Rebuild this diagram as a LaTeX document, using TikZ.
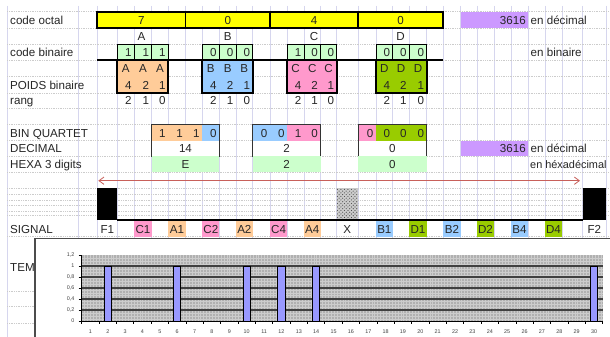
\documentclass[tikz,border=0pt]{standalone}
\usepackage{fontspec}
\setmainfont{Liberation Sans}
\usetikzlibrary{arrows.meta,patterns}

\definecolor{octyellow}{HTML}{FFFF00}
\definecolor{decpurple}{HTML}{CC99FF}
\definecolor{binmint}{HTML}{CCFFCC}
\definecolor{grpA}{HTML}{FFCC99}
\definecolor{grpB}{HTML}{99CCFF}
\definecolor{grpC}{HTML}{FF99CC}
\definecolor{grpD}{HTML}{99CC00}
\definecolor{sheetgrid}{HTML}{D6D6EE}
\definecolor{barblue}{HTML}{9999FF}
\definecolor{spanred}{HTML}{C8605A}

\tikzset{
  txt/.style={inner sep=0pt, font=\fontsize{9.9}{11}\selectfont, text=black!85},
  lbl/.style={txt, anchor=base west},
  mid/.style={txt, anchor=base},
  num/.style={txt, anchor=base east},
  small/.style={inner sep=0pt, font=\fontsize{4.6}{5}\selectfont, text=black!75},
  colline/.style={sheetgrid, line width=0.5pt},
  rowline/.style={gray!40, line width=0.5pt, densely dotted},
  heavybox/.style={draw=black, line width=1.5pt},
  cellbox/.style={draw=black, line width=0.8pt},
  groupbox/.style={draw=black!80, line width=0.8pt},
  barb/.tip={Straight Barb[length=1.5mm, width=2.2mm]}
}

\begin{document}
\begin{tikzpicture}[x=0.3mm, y=-0.3mm]
\useasboundingbox (0,0) rectangle (610,337);
\fill[white] (0,0) rectangle (610,337);

% sheet grid
\foreach \gx in {7,78,97.3,117.3,134.3,151.7,168.3,185.5,202.3,219.3,236,252.7,270,287.3,304,320.5,336.7,358,376,392.7,409.3,426.7,443.3,460.5,477,494,511,528,545,562,582.7,606}
  \draw[colline] (\gx,6) -- (\gx,337);
\foreach \gy in {11.7,28.3,44.3,60,76.5,93,108.5,124.7,140.7,156.3,172,188.3,194,200,205.5,211,215.5,236.7,291.7,306.7,323}
  \draw[rowline] (7,\gy) -- (610,\gy);

% code octal and group letters
\foreach \xa/\xb/\dg/\gn [count=\i] in {97.3/185.5/7/A, 185.5/270/0/B, 270/358/4/C, 358/443.3/0/D}{
  \filldraw[fill=octyellow, heavybox] (\xa,11.7) rectangle (\xb,28.3);
  \node[mid] (oct\i) at ({(\xa+\xb)/2},24.8) {\dg};
  \node[mid] (grp\gn) at ({(\xa+\xb)/2},40.8) {\gn};
}
\fill[decpurple] (460.5,11.7) rectangle (528,28.3);

% code binaire
\foreach \xa/\xb/\dg [count=\i] in {117.3/134.3/1, 134.3/151.7/1, 151.7/168.3/1,
    202.3/219.3/0, 219.3/236/0, 236/252.7/0,
    287.3/304/1, 304/320.5/0, 320.5/336.7/0,
    376/392.7/0, 392.7/409.3/0, 409.3/426.7/0}{
  \filldraw[fill=binmint, cellbox] (\xa,44.3) rectangle (\xb,60);
  \node[num] (bit\i) at (\xb-2.5,56.5) {\dg};
}
\draw[line width=1.5pt] (97.3,60) -- (443.3,60);

% poids binaire and rang
\foreach \xa/\xb/\cl in {117.3/168.3/grpA, 202.3/252.7/grpB, 287.3/336.7/grpC, 376/426.7/grpD}
  \filldraw[fill=\cl, heavybox] (\xa,60) rectangle (\xb,93);
\foreach \xa/\xb/\gn/\wt/\rk [count=\i] in {117.3/134.3/A/4/2, 134.3/151.7/A/2/1, 151.7/168.3/A/1/0,
    202.3/219.3/B/4/2, 219.3/236/B/2/1, 236/252.7/B/1/0,
    287.3/304/C/4/2, 304/320.5/C/2/1, 320.5/336.7/C/1/0,
    376/392.7/D/4/2, 392.7/409.3/D/2/1, 409.3/426.7/D/1/0}{
  \node[mid] (wl\i) at ({(\xa+\xb)/2},73) {\gn};
  \node[num] (wv\i) at (\xb-2.5,89.5) {\wt};
  \node[num] (rk\i) at (\xb-2.5,105) {\rk};
}

% quartets, decimal and hexa
\foreach \xa/\xb/\cl/\dg [count=\i] in {151.7/168.3/grpA/1, 168.3/185.5/grpA/1, 185.5/202.3/grpA/1, 202.3/219.3/grpB/0,
    252.7/270/grpB/0, 270/287.3/grpB/0, 287.3/304/grpC/1, 304/320.5/grpC/0,
    358/376/grpC/0, 376/392.7/grpD/0, 392.7/409.3/grpD/0, 409.3/426.7/grpD/0}{
  \fill[\cl] (\xa,124.7) rectangle (\xb,140.7);
  \node[num] (nib\i) at (\xb-2.5,137.2) {\dg};
}
\foreach \xa/\xb/\dv/\hx [count=\i] in {151.7/219.3/14/E, 252.7/320.5/2/2, 358/426.7/0/0}{
  \fill[white] (\xa,140.7) rectangle (\xb,156.3);
  \draw[groupbox] (\xa,124.7) rectangle (\xb,156.3);
  \fill[binmint] (\xa,156.3) rectangle (\xb,172);
  \node[mid] (dec\i) at ({(\xa+\xb)/2},152.8) {\dv};
  \node[mid] (hex\i) at ({(\xa+\xb)/2},168.5) {\hx};
}
\fill[decpurple] (460.5,140.7) rectangle (528,156.3);

% Below nodes are the labels.
  \node[lbl] (lOct) at (10,24.8) {code octal};
  \node[lbl] (lBin) at (10,56.5) {code binaire};
  \node[lbl] (lPoids) at (10,89.5) {POIDS binaire};
  \node[lbl] (lRang) at (10,105) {rang};
  \node[lbl] (lQuart) at (10,137.2) {BIN QUARTET};
  \node[lbl] (lDec) at (10,152.8) {DECIMAL};
  \node[lbl] (lHexa) at (10,168.5) {HEXA 3 digits};
  \node[lbl] (lSignal) at (10,233.2) {SIGNAL};
  \node[lbl] (lTem) at (10,271.5) {TEM};
  \node[num] (octSum) at (526,24.8) {3616};
  \node[lbl] (octUnit) at (530.5,24.8) {en décimal};
  \node[lbl] (binUnit) at (530.5,56.5) {en binaire};
  \node[num] (decSum) at (526,152.8) {3616};
  \node[lbl] (decUnit) at (530.5,152.8) {en décimal};
  \node[lbl, font=\fontsize{9.3}{11}\selectfont] (hexUnit) at (530,168.5) {en héxadécimal};

% span arrow over the frame
\coordinate (spanL) at (98.3,180.7);
\coordinate (spanR) at (580,180.7);
\draw[spanred, line width=0.7pt, barb-barb] (spanL) -- (spanR);

% signal frame
\fill[black] (97.3,188.3) rectangle (117.3,220);
\fill[black] (582.7,188.3) rectangle (606,220);
\fill[gray!40] (336.7,188.3) rectangle (358,220);
\fill[pattern=crosshatch dots, pattern color=gray!60!black] (336.7,188.3) rectangle (358,220);
\draw[line width=1.5pt] (117.3,220) -- (582.7,220);
\foreach \xa/\xb/\cl in {134.3/151.7/grpC, 168.3/185.5/grpA, 202.3/219.3/grpC, 236/252.7/grpA,
    270/287.3/grpC, 304/320.5/grpA, 376/392.7/grpB, 409.3/426.7/grpD,
    443.3/460.5/grpB, 477/494/grpD, 511/528/grpB, 545/562/grpD}
  \fill[\cl] (\xa,221) rectangle (\xb,236.7);
\foreach \xa/\xb/\sig in {97.3/117.3/F1, 134.3/151.7/C1, 168.3/185.5/A1, 202.3/219.3/C2, 236/252.7/A2,
    270/287.3/C4, 304/320.5/A4, 336.7/358/X, 376/392.7/B1, 409.3/426.7/D1,
    443.3/460.5/B2, 477/494/D2, 511/528/B4, 545/562/D4, 582.7/606/F2}
  \node[mid] (sig\sig) at ({(\xa+\xb)/2},233.2) {\sig};

% chart
\filldraw[fill=white, draw=black!70, line width=1pt] (35,238.3) rectangle (620,345);
\fill[gray!62] (81.7,255) rectangle (602.7,321);
\foreach \mx in {84.6,87.5,...,601} \draw[gray!40, line width=0.25pt] (\mx,255) -- (\mx,321);
\foreach \my in {257.9,260.8,...,320} \draw[gray!40, line width=0.25pt] (81.7,\my) -- (602.7,\my);
\foreach \my in {266,277,288,299,310} \draw[black!75, line width=1.3pt] (81.7,\my) -- (602.7,\my);
\foreach \k in {2,6,10,12,14,30}
  \filldraw[fill=barblue, draw=black, line width=0.8pt] ({81.7+17.367*(\k-0.5)-3.7},266) rectangle ({81.7+17.367*(\k-0.5)+3.7},321);
\draw[black, line width=0.8pt] (81.7,255) -- (81.7,321) -- (602.7,321);
\foreach \my in {255,266,...,321} \draw[black, line width=0.6pt] (78.7,\my) -- (81.7,\my);
\foreach \k in {0,...,30} \draw[black, line width=0.6pt] ({81.7+17.367*\k},321) -- ({81.7+17.367*\k},324);
\foreach \my/\yv [count=\i] in {255/{1,2}, 266/1, 277/{0,8}, 288/{0,6}, 299/{0,4}, 310/{0,2}, 321/0}
  \node[small, anchor=east] (ytick\i) at (74.5,\my) {\yv};
\foreach \k in {1,...,30}
  \node[small] (xtick\k) at ({81.7+17.367*(\k-0.5)},332) {\k};
\end{tikzpicture}
\end{document}
